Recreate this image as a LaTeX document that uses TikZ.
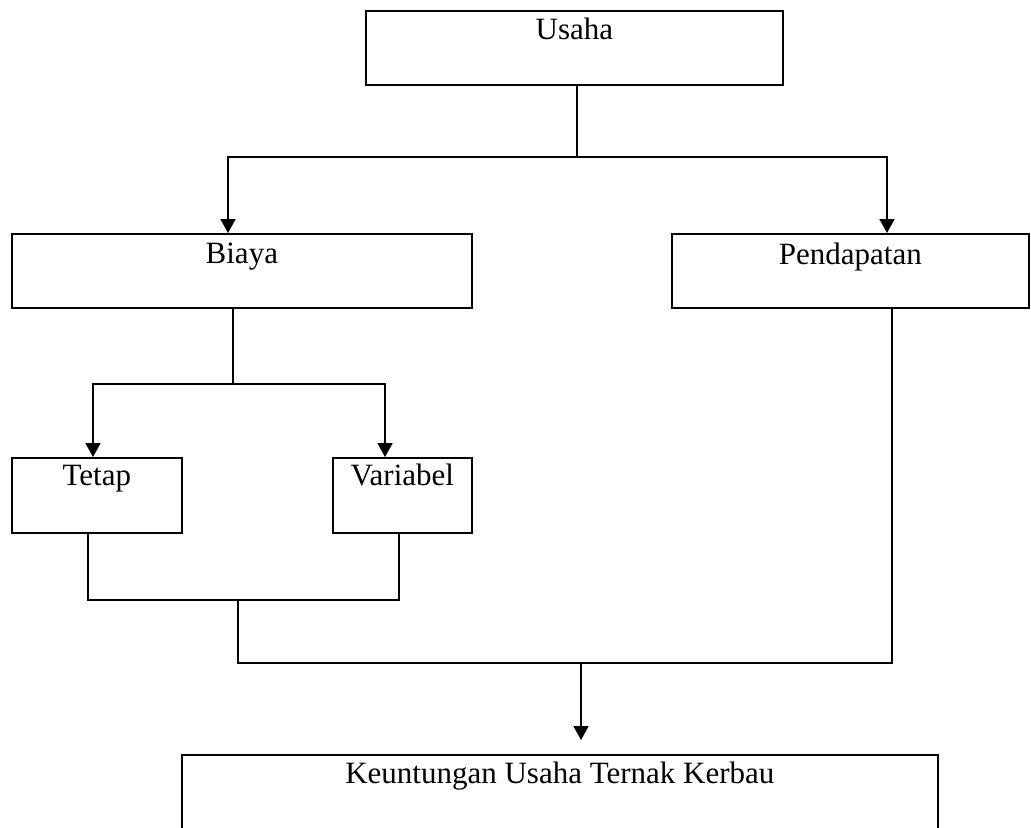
\documentclass[tikz,border=0pt]{standalone}
\usepackage{fontspec}
\setmainfont{Liberation Serif}
\usetikzlibrary{arrows.meta,positioning}

\begin{document}
\begin{tikzpicture}[
    x=0.5pt,y=-0.5pt,
    box/.style={rectangle,draw,line width=0.85pt,inner sep=0pt,anchor=north west,
      align=center,font=\fontsize{15.5}{18}\selectfont},
    arrow/.style={-{Triangle[length=7pt,width=7.5pt]},line width=0.85pt},
    link/.style={line width=0.85pt}
  ]
    \useasboundingbox (0,0) rectangle (1031,827);

    \node[box,minimum width=208.5pt,text height=14.5pt,text depth=22.5pt] (usaha) at (365,10) {Usaha};
    \node[box,minimum width=230pt,text height=15pt,text depth=22pt] (biaya) at (11,233) {Biaya};
    \node[box,minimum width=178.5pt,text height=15.5pt,text depth=21.5pt] (pendapatan) at (671,233) {Pendapatan};
    \node[box,minimum width=85pt,text height=14pt,text depth=23.5pt] (tetap) at (11,457) {Tetap};
    \node[box,minimum width=69.5pt,text height=14pt,text depth=23.5pt] (variabel) at (332,457) {Variabel};
    \node[box,minimum width=378pt,text height=14.5pt,text depth=40pt] (untung) at (181,754) {Keuntungan Usaha Ternak Kerbau};

    % usaha -> biaya, pendapatan
    \coordinate (ua) at (577,157);
    \coordinate (bl) at (228,157);
    \coordinate (pr) at (887,157);
    \draw[link] (usaha.south -| ua) -- (ua);
    \draw[arrow] (ua) -- (bl) -- (biaya.north -| bl);
    \draw[arrow] (ua) -- (pr) -- (pendapatan.north -| pr);

    % biaya -> tetap, variabel
    \coordinate (ba) at (233,384);
    \coordinate (tl) at (93,384);
    \coordinate (vr) at (385,384);
    \draw[link] (biaya.south -| ba) -- (ba);
    \draw[arrow] (ba) -- (tl) -- (tetap.north -| tl);
    \draw[arrow] (ba) -- (vr) -- (variabel.north -| vr);

    % join to keuntungan
    \coordinate (tb) at (88,600);
    \coordinate (vb) at (399,600);
    \coordinate (mb) at (238,600);
    \coordinate (ml) at (238,663);
    \coordinate (pb) at (892,663);
    \coordinate (ka) at (581,663);
    \coordinate (kt) at (581,740);
    \draw[link] (tetap.south -| tb) -- (tb) -- (vb) -- (variabel.south -| vb);
    \draw[link] (mb) -- (ml) -- (pb) -- (pendapatan.south -| pb);
    \draw[arrow] (ka) -- (kt);
  \end{tikzpicture}
\end{document}
